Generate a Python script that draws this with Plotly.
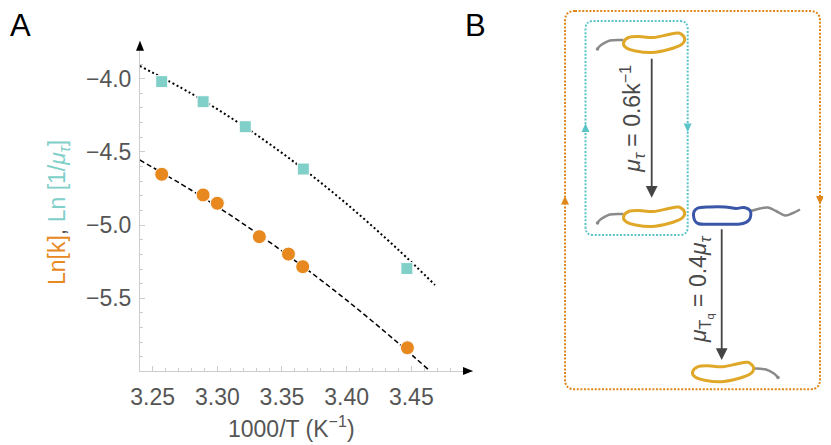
import plotly.graph_objects as go

# ---- data (panel A) ----
inv_T_k = [3.257, 3.289, 3.300, 3.3325, 3.355, 3.366, 3.447]
ln_k = [-4.653, -4.794, -4.851, -5.079, -5.198, -5.284, -5.838]

inv_T_tau = [3.257, 3.289, 3.3216, 3.3665, 3.4466]
ln_inv_mu = [-4.02, -4.157, -4.328, -4.617, -5.297]

# fitted curves
fit_x_k = [3.240, 3.28, 3.32, 3.36, 3.40, 3.44, 3.464]
fit_k = [-4.555, -4.762, -4.991, -5.242, -5.513, -5.807, -5.993]
fit_x_tau = [3.240, 3.28, 3.32, 3.36, 3.40, 3.44, 3.4683]
fit_tau = [-3.913, -4.102, -4.322, -4.573, -4.855, -5.169, -5.409]

x_ticks = [3.25, 3.30, 3.35, 3.40, 3.45]
x_ticklabels = ["3.25", "3.30", "3.35", "3.40", "3.45"]
y_ticks = [-4.0, -4.5, -5.0, -5.5]
y_ticklabels = ["\u22124.0", "\u22124.5", "\u22125.0", "\u22125.5"]

ORANGE = "#E8891F"
TEAL = "#80CFC9"
GOLD = "#E0A828"
BLUE = "#3A56A8"
GREY_TXT = "#555555"
FONT = "Liberation Sans"

W, H = 831, 445
OFF = 8  # the page body margin shifts the figure by this much


def smooth_path(pts, closed=True):
    # catmull-rom through the points -> cubic bezier svg path
    n = len(pts)
    d = "M%.2f,%.2f" % pts[0]
    segs = n if closed else n - 1
    for i in range(segs):
        p0 = pts[(i - 1) % n] if closed else pts[max(i - 1, 0)]
        p1 = pts[i]
        p2 = pts[(i + 1) % n] if closed else pts[i + 1]
        p3 = pts[(i + 2) % n] if closed else pts[min(i + 2, n - 1)]
        c1 = (p1[0] + (p2[0] - p0[0]) / 6, p1[1] + (p2[1] - p0[1]) / 6)
        c2 = (p2[0] - (p3[0] - p1[0]) / 6, p2[1] - (p3[1] - p1[1]) / 6)
        d += " C%.2f,%.2f %.2f,%.2f %.2f,%.2f" % (c1 + c2 + p2)
    if closed:
        d += " Z"
    return d


def shift(pts, dx, dy):
    return [(x + dx, y + dy) for x, y in pts]


def rounded_rect(x0, y0, x1, y1, r):
    return (f"M{x0 + r},{y0} L{x1 - r},{y0} Q{x1},{y0} {x1},{y0 + r} "
            f"L{x1},{y1 - r} Q{x1},{y1} {x1 - r},{y1} L{x0 + r},{y1} "
            f"Q{x0},{y1} {x0},{y1 - r} L{x0},{y0 + r} Q{x0},{y0} {x0 + r},{y0} Z")


def tri(tip, up, half=4, length=9):
    x, y = tip
    s = 1 if up else -1
    return f"M{x},{y} L{x - half},{y + s * length} L{x + half},{y + s * length} Z"


fig = go.Figure()

fig.add_trace(go.Scatter(x=fit_x_k, y=fit_k, mode="lines", line_shape="spline",
                         line=dict(color="black", width=1.5, dash="5px,3px"),
                         hoverinfo="skip", cliponaxis=False))
fig.add_trace(go.Scatter(x=fit_x_tau, y=fit_tau, mode="lines", line_shape="spline",
                         line=dict(color="black", width=2, dash="2px,2.6px"),
                         hoverinfo="skip", cliponaxis=False))
fig.add_trace(go.Scatter(x=inv_T_k, y=ln_k, mode="markers", cliponaxis=False,
                         marker=dict(symbol="circle", size=14, color=ORANGE,
                                     line=dict(color="white", width=1))))
fig.add_trace(go.Scatter(x=inv_T_tau, y=ln_inv_mu, mode="markers", cliponaxis=False,
                         marker=dict(symbol="square", size=12, color=TEAL,
                                     line=dict(color="white", width=1))))
# dummy trace so the pixel overlay subplot exists
fig.add_trace(go.Scatter(x=[100], y=[100], xaxis="x2", yaxis="y2", mode="markers",
                         marker=dict(opacity=0), hoverinfo="skip"))

tickfont = dict(family=FONT, size=23, color=GREY_TXT)
fig.update_layout(
    width=W, height=H,
    margin=dict(l=0, r=0, t=0, b=0, pad=0),
    paper_bgcolor="white", plot_bgcolor="rgba(0,0,0,0)",
    showlegend=False,
    xaxis=dict(domain=[(140 - OFF) / W, (473 - OFF) / W], range=[3.2402, 3.4977],
               showgrid=False, zeroline=False, automargin=False,
               showline=True, linecolor="#cccccc", linewidth=1,
               tickvals=x_ticks, ticktext=x_ticklabels,
               ticks="inside", ticklen=5, tickcolor="#cccccc",
               minor=dict(dtick=0.01, tick0=3.25, ticks="inside", ticklen=3,
                          tickcolor="#cccccc", showgrid=False),
               tickfont=tickfont, ticklabelstandoff=5),
    yaxis=dict(domain=[(H - 371 + OFF) / H, (H - 40.7 + OFF) / H], range=[-5.9966, -3.7404],
               showgrid=False, zeroline=False, automargin=False,
               showline=True, linecolor="#cccccc", linewidth=1,
               tickvals=y_ticks, ticktext=y_ticklabels,
               ticks="inside", ticklen=5, tickcolor="#cccccc",
               minor=dict(dtick=0.1, tick0=-4.0, ticks="inside", ticklen=3,
                          tickcolor="#cccccc", showgrid=False),
               tickfont=tickfont, ticklabelstandoff=3),
    xaxis2=dict(domain=[0, 1], range=[OFF, W + OFF], visible=False, anchor="y2",
                automargin=False),
    yaxis2=dict(domain=[0, 1], range=[H + OFF, OFF], visible=False, anchor="x2",
                automargin=False),
)

shapes = []
# axis arrowheads
shapes.append(dict(type="path", xref="x2", yref="y2", path=tri((140, 40.7), True, 4, 10),
                   fillcolor="black", line=dict(width=0)))
shapes.append(dict(type="path", xref="x2", yref="y2",
                   path="M473,371 L463,367 L463,375 Z", fillcolor="black", line=dict(width=0)))

# panel B: dotted loops
shapes.append(dict(type="path", xref="x2", yref="y2", path=rounded_rect(565, 11, 820, 389.3, 10),
                   line=dict(color="#E0861A", width=2, dash="2px,1.6px")))
shapes.append(dict(type="path", xref="x2", yref="y2", path=rounded_rect(585.5, 21, 687.7, 235, 8),
                   line=dict(color="#5BC4C8", width=2, dash="2px,1.6px")))
for tip, up, col in [((565, 196), True, "#E0861A"), ((820, 204.5), False, "#E0861A"),
                     ((585.5, 123.5), True, "#5BC4C8"), ((687.7, 132), False, "#5BC4C8")]:
    shapes.append(dict(type="path", xref="x2", yref="y2", path=tri(tip, up, 4, 8.5),
                       fillcolor=col, line=dict(width=0)))

# bacteria outlines
bean = [(623.5, 43), (628.5, 37.5), (638.5, 36.5), (653.5, 37.5), (668.5, 34.5),
        (678.5, 33), (684.5, 38), (681.5, 44.5), (668.5, 49.5), (651.5, 52.5),
        (635.5, 51), (626.5, 48)]
blue_cell = [(693.5, 215.5), (697, 208.5), (710, 207), (725, 207), (736, 208.5),
             (744, 207.5), (750.5, 211.5), (749, 220), (740, 224), (715, 224.2), (698, 223.5)]
flag1 = [(623.5, 40), (610, 40.5), (600.5, 45.5), (597.5, 49)]
flag_blue = [(751, 211), (760, 208.5), (768, 207.5), (776, 211), (785, 215.5),
             (793, 213), (800, 209.5)]
flag4 = [(753.5, 368.5), (766, 369.5), (774, 373.5), (778, 377.5)]

for dx, dy in [(0, 0), (0, 174)]:
    shapes.append(dict(type="path", xref="x2", yref="y2",
                       path=smooth_path(shift(flag1, dx, dy), closed=False),
                       line=dict(color="#8a8a8a", width=2.5)))
    ex, ey = flag1[-1][0] + dx, flag1[-1][1] + dy
    shapes.append(dict(type="circle", xref="x2", yref="y2", x0=ex - 1.8, x1=ex + 1.8,
                       y0=ey - 1.8, y1=ey + 1.8, fillcolor="#8a8a8a", line=dict(width=0)))
shapes.append(dict(type="path", xref="x2", yref="y2", path=smooth_path(flag_blue, closed=False),
                   line=dict(color="#8a8a8a", width=2.5)))
shapes.append(dict(type="path", xref="x2", yref="y2", path=smooth_path(flag4, closed=False),
                   line=dict(color="#8a8a8a", width=2.5)))
shapes.append(dict(type="circle", xref="x2", yref="y2", x0=776.2, x1=779.8, y0=375.7, y1=379.3,
                   fillcolor="#8a8a8a", line=dict(width=0)))

for dx, dy in [(0, 0), (0, 174), (69, 329.3)]:
    shapes.append(dict(type="path", xref="x2", yref="y2", path=smooth_path(shift(bean, dx, dy)),
                       fillcolor="white", line=dict(color=GOLD, width=3)))
shapes.append(dict(type="path", xref="x2", yref="y2", path=smooth_path(blue_cell),
                   fillcolor="white", line=dict(color=BLUE, width=3)))

fig.update_layout(shapes=shapes)

ann = []
# axis titles
ann.append(dict(xref="x2", yref="y2", x=291.7, y=426.5, showarrow=False,
                text="1000/T (K<sup>\u22121</sup>)",
                font=dict(family=FONT, size=23, color=GREY_TXT)))
ann.append(dict(xref="x2", yref="y2", x=58.5, y=212.5, showarrow=False, textangle=-90,
                text=(f"<span style='color:{ORANGE}'>Ln[k]</span>"
                      f"<span style='color:{GREY_TXT}'>, </span>"
                      f"<span style='color:{TEAL}'>Ln [1/<i>\u03bc</i><sub><i>\u03c4</i></sub>]</span>"),
                font=dict(family=FONT, size=23, color=GREY_TXT)))
# panel letters
ann.append(dict(xref="x2", yref="y2", x=OFF, y=25, xanchor="left", showarrow=False, text="A",
                font=dict(family=FONT, size=31, color="black")))
ann.append(dict(xref="x2", yref="y2", x=475, y=25, showarrow=False, text="B",
                font=dict(family=FONT, size=31, color="black")))
# transition arrows
for x, y0, y1 in [(651.7, 57.3, 197.7), (721.7, 227.7, 360)]:
    ann.append(dict(xref="x2", yref="y2", axref="x2", ayref="y2", x=x, y=y1, ax=x, ay=y0,
                    text="", showarrow=True, arrowhead=2, arrowsize=1.3, arrowwidth=1.8,
                    arrowcolor="#444444"))
ann.append(dict(xref="x2", yref="y2", x=631.7, y=119, showarrow=False, textangle=-90,
                text="<i>\u03bc</i><sub><i>\u03c4</i></sub> = 0.6k<sup>\u22121</sup>",
                font=dict(family=FONT, size=23, color="#4a4a4a")))
ann.append(dict(xref="x2", yref="y2", x=700, y=289, showarrow=False, textangle=-90,
                text="<i>\u03bc</i><sub>T<sub>q</sub></sub> = 0.4<i>\u03bc</i><sub><i>\u03c4</i></sub>",
                font=dict(family=FONT, size=23, color="#4a4a4a")))
fig.update_layout(annotations=ann)

fig.write_html("out.html")
